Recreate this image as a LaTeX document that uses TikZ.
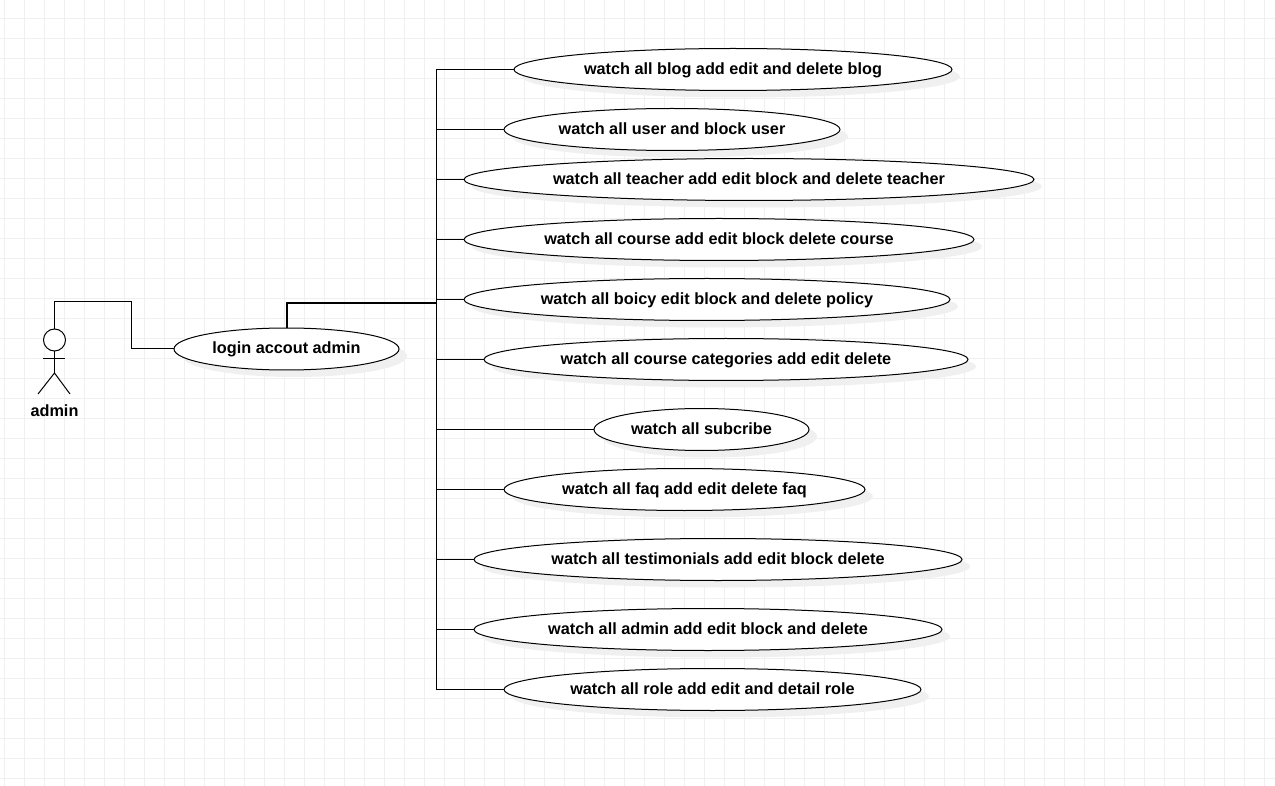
\documentclass[tikz,border=0pt]{standalone}
\usepackage{fontspec}
\setmainfont{Liberation Sans}
\usetikzlibrary{shapes.geometric}
\tikzset{
  x=1pt,y=-1pt,
  usecase/.style={ellipse,draw=black,fill=white,line width=1pt,minimum height=42pt,inner sep=0pt,outer sep=0pt,text height=12pt,text depth=2.4pt,font=\fontsize{16.25}{18}\selectfont\bfseries,text=black},
  shadowell/.style={fill=black!6,draw=none},
  conn/.style={draw=black,line width=1pt},
  actorline/.style={draw=black,line width=1pt},
  gridline/.style={draw=black!6,line width=1pt},
}
\newcommand{\ucase}[5]{% name, x1, x2, cy, text
  \fill[shadowell] ({(#2+#3)/2+8},{#4+7}) ellipse ({(#3-#2)/2} and 21);
  \node[usecase,minimum width={#3-#2}] (#1) at ({(#2+#3)/2},#4) {#5};
}
\begin{document}
\begin{tikzpicture}
\useasboundingbox (0,0) rectangle (1275,786);
\fill[white] (0,0) rectangle (1275,786);
\foreach \i in {0,...,63} \draw[gridline] ({4.5+20*\i},0) -- ({4.5+20*\i},786);
\foreach \i in {0,...,38} \draw[gridline] (0,{18.5+20*\i}) -- (1275,{18.5+20*\i});
% use cases
\ucase{login}{174}{399}{349}{login accout admin}
\ucase{u1}{514}{952}{69.5}{watch all blog add edit and delete blog}
\ucase{u2}{504}{840}{129.5}{watch all user and block user}
\ucase{u3}{464}{1034}{179.5}{watch all teacher add edit block and delete teacher}
\ucase{u4}{464}{974}{239.5}{watch all course add edit block delete course}
\ucase{u5}{464}{950}{299.5}{watch all boicy edit block and delete policy}
\ucase{u6}{484}{968}{359.5}{watch all course categories add edit delete}
\ucase{u7}{594}{809}{429.5}{watch all subcribe}
\ucase{u8}{504}{865}{489.5}{watch all faq add edit delete faq}
\ucase{u9}{474}{962}{559.5}{watch all testimonials add edit block delete}
\ucase{u10}{474}{942}{629.5}{watch all admin add edit block and delete}
\ucase{u11}{504}{921}{689.5}{watch all role add edit and detail role}
% actor
\node[circle,draw=black,fill=white,line width=1pt,minimum size=22pt,inner sep=0pt,outer sep=0pt] (head) at (54.5,340) {};
\coordinate (hip) at (54.5,373);
\draw[actorline] (head.south) -- (hip);
\draw[actorline] (43,358.5) -- (65,358.5);
\draw[actorline] (38,394) -- (hip) -- (70,394);
\node[font=\fontsize{16.25}{18}\selectfont\bfseries,text=black] (adminlabel) at (54.5,410.5) {admin};
% connectors
\draw[conn] (head.north) |- (131.5,302) |- (login.west);
\coordinate (jct) at (436.5,303);
\draw[draw=black,line width=2pt] (login.north) |- (jct);
\foreach \n in {u1,u2,u3,u4,u5,u6,u7,u8,u9,u10,u11}
  \draw[conn] (jct) |- (\n.west);
\end{tikzpicture}
\end{document}
